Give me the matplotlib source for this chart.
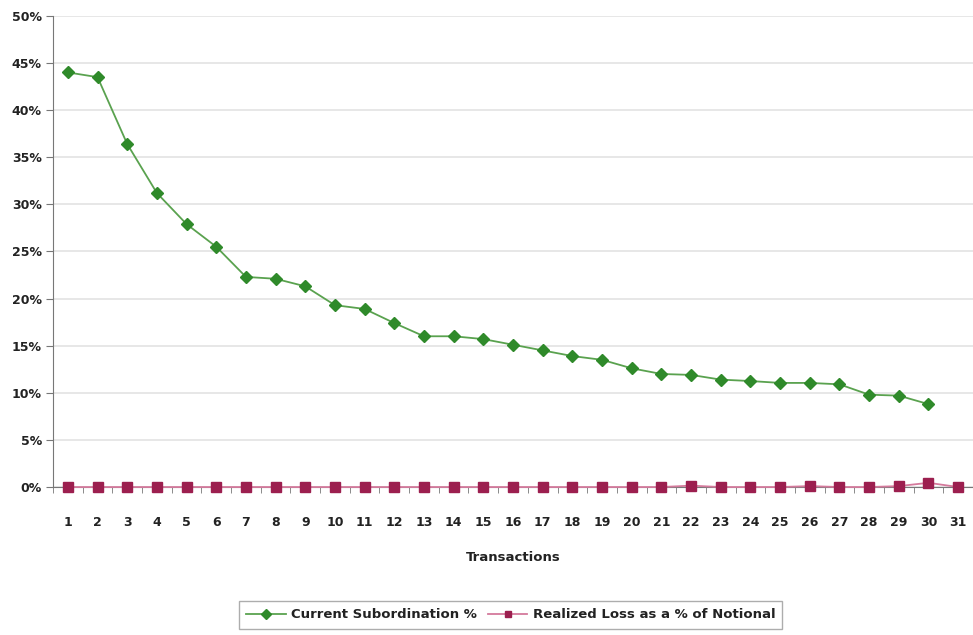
import matplotlib
matplotlib.use('Agg')

import matplotlib.pyplot as plt
from matplotlib.ticker import FixedLocator, FuncFormatter

# data
transactions = list(range(1, 32))
subordination = [44.0, 43.5, 36.4, 31.2, 27.9, 25.5, 22.3, 22.1, 21.3, 19.3,
                 18.9, 17.4, 16.0, 16.0, 15.7, 15.1, 14.5, 13.9, 13.5, 12.6,
                 12.0, 11.9, 11.4, 11.25, 11.05, 11.05, 10.9, 9.8, 9.7, 8.8]
realized_loss = [0, 0, 0, 0, 0, 0, 0, 0, 0, 0,
                 0, 0, 0, 0, 0, 0, 0, 0, 0, 0,
                 0, 0.15, 0, 0, 0, 0.1, 0, 0, 0.1, 0.45, 0]

green = '#2f8a2a'
green_line = '#5aa24f'
red = '#9c1f4f'
red_line = '#d47a9c'

fig = plt.figure(figsize=(9.73, 6.35), dpi=100)
ax = fig.add_axes([0.0545, 0.233, 0.9455, 0.742])

ax.plot(transactions[:len(subordination)], subordination, color=green_line, lw=1.3,
        marker='D', markersize=6.5, markerfacecolor=green, markeredgecolor=green,
        label='Current Subordination %', zorder=3, clip_on=False)
ax.plot(transactions, realized_loss, color=red_line, lw=1.3,
        marker='s', markersize=7, markerfacecolor=red, markeredgecolor=red,
        label='Realized Loss as a % of Notional', zorder=4, clip_on=False)

ax.set_xlim(0.5, 31.5)
ax.set_ylim(0, 50)
ax.set_yticks(range(0, 51, 5))
ax.yaxis.set_major_formatter(FuncFormatter(lambda v, p: f'{int(v)}%'))
ax.set_xticks(transactions)
ax.xaxis.set_minor_locator(FixedLocator([i + 0.5 for i in range(0, 32)]))
ax.tick_params(axis='x', which='major', length=0, pad=21)
ax.tick_params(axis='x', which='minor', length=4, color='#777777', direction='out')
ax.tick_params(axis='y', length=5, color='#777777', direction='out', pad=3)
for lab in ax.get_xticklabels() + ax.get_yticklabels():
    lab.set_fontsize(9)
    lab.set_fontweight('semibold')
    lab.set_color('#222222')

ax.grid(axis='y', color='#e3e3e3', lw=1.2)
ax.set_axisbelow(True)
for s in ['top', 'right']:
    ax.spines[s].set_visible(False)
ax.spines['left'].set_color('#777777')
ax.spines['bottom'].set_color('#777777')

ax.set_xlabel('Transactions', fontsize=9.5, fontweight='semibold', color='#222222', labelpad=16)

leg = fig.legend(loc='center', bbox_to_anchor=(0.525, 0.0315), ncol=2, frameon=True,
                 fancybox=False, edgecolor='#999999', fontsize=9.5, handlelength=3,
                 columnspacing=0.8, handletextpad=0.4, borderpad=0.55)
for t in leg.get_texts():
    t.set_fontweight('semibold')
    t.set_color('#222222')
for h in leg.legend_handles:
    h.set_markersize(5)

fig.savefig('out.png', dpi=100)
